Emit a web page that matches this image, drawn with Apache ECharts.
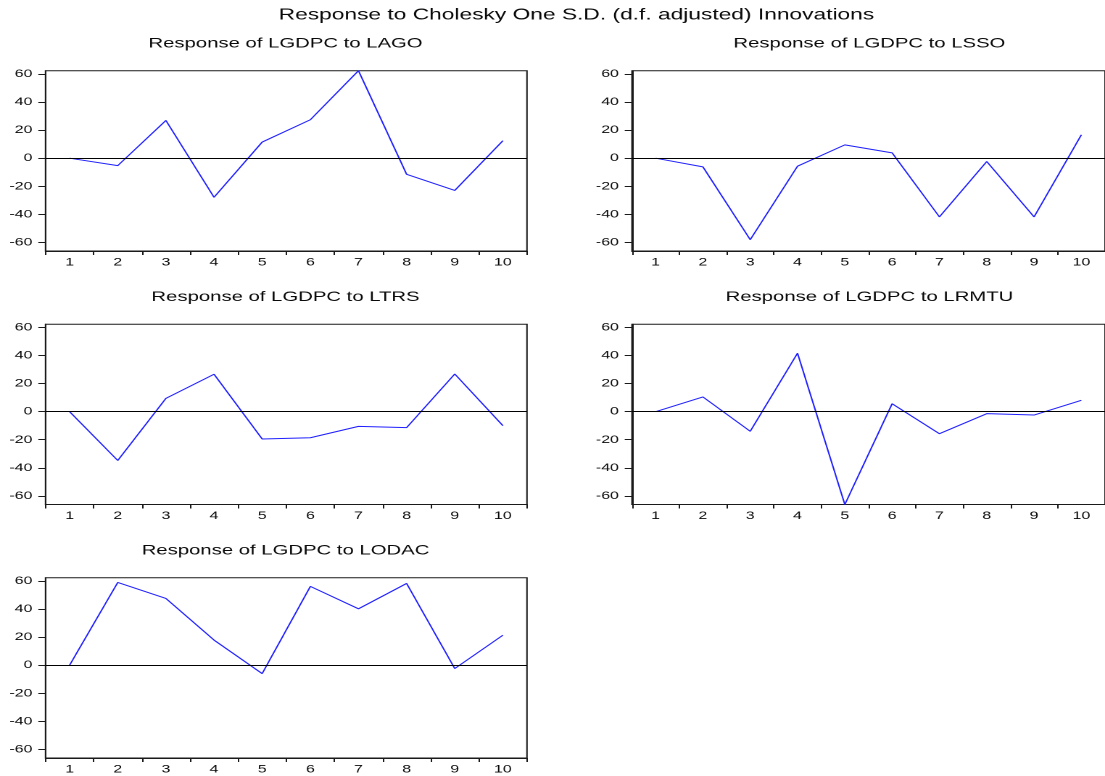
<!DOCTYPE html>
<html>
<head>
<meta charset="utf-8">
<script src="https://cdn.jsdelivr.net/npm/echarts@6/dist/echarts.min.js"></script>
<style>
  html, body { margin: 0; padding: 0; background: #fff; overflow: hidden; }
  /* The figure is laid out on a narrower canvas and stretched horizontally to fill the page */
  #chart { position: absolute; left: 0; top: 0; width: 762px; height: 776px;
           transform: scaleX(1.450131); transform-origin: 0 0; }
</style>
</head>
<body>
<div id="chart"></div>
<script>
// Forecast horizon (periods)
const periods = ['1', '2', '3', '4', '5', '6', '7', '8', '9', '10'];
// Y-axis tick labels shared by every panel
const yTicks = [-60, -40, -20, 0, 20, 40, 60];
// Common vertical range of all panels
const yMin = -66.2;
const yMax = 62.4;

// Impulse responses of LGDPC
const respLAGO  = [0, -5.3, 26.9, -27.9, 11.5, 27.4, 62.4, -11.5, -23.0, 12.5];
const respLSSO  = [0, -6.2, -58.1, -5.7, 9.5, 3.8, -41.9, -2.4, -41.9, 16.7];
const respLTRS  = [0, -34.8, 9.5, 26.7, -19.5, -18.6, -10.5, -11.4, 26.9, -10.0];
const respLRMTU = [0, 10.5, -14.0, 41.7, -66.2, 5.7, -15.7, -1.4, -2.4, 8.1];
const respLODAC = [0, 59.0, 47.6, 17.9, -6.0, 56.2, 40.2, 58.3, -2.4, 21.4];

const mainTitle = 'Response to Cholesky One S.D. (d.f. adjusted) Innovations';
const panelTitles = [
  'Response of LGDPC to LAGO',
  'Response of LGDPC to LSSO',
  'Response of LGDPC to LTRS',
  'Response of LGDPC to LRMTU',
  'Response of LGDPC to LODAC'
];
const panelData = [respLAGO, respLSSO, respLTRS, respLRMTU, respLODAC];

const FONT = '"Liberation Sans", Arial, Helvetica, sans-serif';
const TEXT_COLOR = '#0a0a0a';

// Panel boxes (left, top, width, height) in layout pixels
const colLeft = [31.4, 435.8];
const colWidth = [332.0, 328.5];
const rowTop = [70.7, 324.2, 577.7];
const boxHeight = 180.3;

const grids = [], xAxes = [], yAxes = [], series = [], titles = [];

titles.push({
  text: mainTitle, left: 397.5, top: 15, textAlign: 'center', textVerticalAlign: 'middle',
  padding: 0,
  textStyle: { fontFamily: FONT, fontSize: 15.7, fontWeight: 'normal', color: TEXT_COLOR }
});

panelData.forEach(function (values, i) {
  const col = i % 2, row = Math.floor(i / 2);
  const left = colLeft[col], top = rowTop[row], width = colWidth[col];

  grids.push({
    left: left, top: top, width: width, height: boxHeight,
    show: true, borderColor: '#1a1a1a', borderWidth: 1, backgroundColor: 'transparent',
    containLabel: false
  });

  titles.push({
    text: panelTitles[i], left: left + width / 2 - 0.5, top: top - 27.3,
    textAlign: 'center', textVerticalAlign: 'middle', padding: 0,
    textStyle: { fontFamily: FONT, fontSize: 14, fontWeight: 'normal', color: TEXT_COLOR }
  });

  xAxes.push({
    type: 'category', gridIndex: i, data: periods, boundaryGap: true,
    axisLine: { show: true, onZero: false, lineStyle: { color: '#1a1a1a', width: 1 } },
    axisTick: { show: true, interval: 0, length: 4, inside: false, lineStyle: { color: '#1a1a1a' } },
    axisLabel: { interval: 0, margin: 6, fontFamily: FONT, fontSize: 11, color: TEXT_COLOR },
    splitLine: { show: false }
  });

  yAxes.push({
    type: 'value', gridIndex: i, min: yMin, max: yMax,
    axisLine: { show: true, lineStyle: { color: '#1a1a1a', width: 1 } },
    axisTick: { show: true, length: 5, customValues: yTicks, lineStyle: { color: '#1a1a1a' } },
    axisLabel: { margin: 9, customValues: yTicks, fontFamily: FONT, fontSize: 11, color: TEXT_COLOR },
    splitLine: { show: false }
  });

  series.push({
    type: 'line', xAxisIndex: i, yAxisIndex: i, data: values,
    symbol: 'none', clip: false, silent: true,
    lineStyle: { color: '#1f1fff', width: 1 },
    markLine: {
      silent: true, symbol: ['none', 'none'], animation: false,
      label: { show: false },
      lineStyle: { color: '#000', width: 1, type: 'solid' },
      data: [{ yAxis: 0 }]
    }
  });
});

const chart = echarts.init(document.getElementById('chart'), null, { renderer: 'canvas', devicePixelRatio: 2 });
chart.setOption({
  animation: false,
  backgroundColor: '#fff',
  title: titles,
  grid: grids,
  xAxis: xAxes,
  yAxis: yAxes,
  series: series
});
</script>
</body>
</html>
